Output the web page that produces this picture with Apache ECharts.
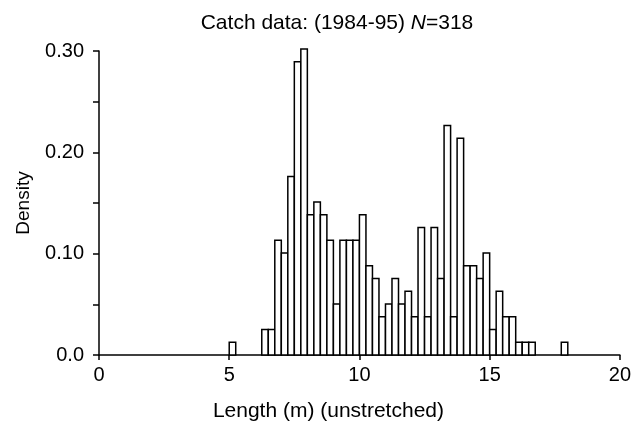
<!DOCTYPE html>
<html>
<head>
<meta charset="utf-8">
<script src="https://cdn.jsdelivr.net/npm/echarts@6/dist/echarts.min.js"></script>
<style>html,body{margin:0;padding:0;background:#fff}#c{width:634px;height:427px}</style>
</head>
<body>
<div id="c"></div>
<script>
// Bin left edges (m), bin width 0.25 m
const binStarts = [5.0, 6.25, 6.5, 6.75, 7.0, 7.25, 7.5, 7.75, 8.0, 8.25, 8.5, 8.75,
  9.0, 9.25, 9.5, 9.75, 10.0, 10.25, 10.5, 10.75, 11.0, 11.25, 11.5, 11.75,
  12.0, 12.25, 12.5, 12.75, 13.0, 13.25, 13.5, 13.75, 14.0, 14.25, 14.5, 14.75,
  15.0, 15.25, 15.5, 15.75, 16.0, 16.25, 16.5, 17.75];
const binWidth = 0.25;
// Density values
const density = [0.0126, 0.0252, 0.0252, 0.1132, 0.1006, 0.1761, 0.2893, 0.3019, 0.1384, 0.1509, 0.1384, 0.1132,
  0.0503, 0.1132, 0.1132, 0.1132, 0.1384, 0.0881, 0.0755, 0.0377, 0.0503, 0.0755, 0.0503, 0.0629,
  0.0377, 0.1258, 0.0377, 0.1258, 0.0755, 0.2264, 0.0377, 0.2138, 0.0881, 0.0881, 0.0755, 0.1006,
  0.0252, 0.0629, 0.0377, 0.0377, 0.0126, 0.0126, 0.0126, 0.0126];
const xTicks = [0, 5, 10, 15, 20];
const yTickLabels = {0: '0.0', 0.1: '0.10', 0.2: '0.20', 0.3: '0.30'};

const data = binStarts.map((s, i) => [s, s + binWidth, density[i]]);
const font = 'Liberation Sans, Arial, sans-serif';
const chart = echarts.init(document.getElementById('c'), null, {renderer: 'canvas'});
chart.setOption({
  animation: false,
  title: {
    text: '{a|Catch data: (1984-95) }{i|N}{a|=318}',
    left: 332, top: 8, textAlign: 'center',
    textStyle: {rich: {
      a: {fontFamily: font, fontSize: 21, fontWeight: 'normal', color: '#000'},
      i: {fontFamily: font, fontSize: 21, fontWeight: 'normal', color: '#000', fontStyle: 'italic'}
    }}
  },
  grid: {left: 99, right: 9, top: 51, bottom: 68},
  xAxis: {
    type: 'value', min: 0, max: 20, interval: 5,
    name: 'Length (m) (unstretched)', nameLocation: 'middle', nameGap: 46,
    nameTextStyle: {fontFamily: font, fontSize: 21, color: '#000', padding: [0, 62, 0, 0]},
    axisLine: {lineStyle: {color: '#000', width: 1.5}},
    axisTick: {show: true, inside: false, length: 5, lineStyle: {color: '#000', width: 1.5}},
    axisLabel: {fontFamily: font, fontSize: 20, color: '#000', margin: 10,
      formatter: v => xTicks.includes(v) ? String(v) : ''},
    splitLine: {show: false}
  },
  yAxis: {
    type: 'value', min: 0, max: 0.3, interval: 0.1,
    name: 'Density', nameLocation: 'middle', nameGap: 66, nameRotate: 90,
    nameTextStyle: {fontFamily: font, fontSize: 19, color: '#000'},
    axisLine: {show: true, lineStyle: {color: '#000', width: 1.5}},
    axisTick: {show: true, length: 6, lineStyle: {color: '#000', width: 1.5}},
    minorTick: {show: true, splitNumber: 2, length: 6, lineStyle: {color: '#000', width: 1.5}},
    axisLabel: {fontFamily: font, fontSize: 20, color: '#000', margin: 15,
      formatter: v => yTickLabels[Math.round(v * 10) / 10] || ''},
    splitLine: {show: false}
  },
  series: [{
    type: 'custom',
    data: data,
    encode: {x: [0, 1], y: 2},
    renderItem: function (params, api) {
      const p0 = api.coord([api.value(0), 0]);
      const p1 = api.coord([api.value(1), api.value(2)]);
      return {
        type: 'rect',
        shape: {x: p0[0], y: p1[1], width: p1[0] - p0[0], height: p0[1] - p1[1]},
        style: {fill: '#fff', stroke: '#000', lineWidth: 1.5}
      };
    }
  }]
});
</script>
</body>
</html>
